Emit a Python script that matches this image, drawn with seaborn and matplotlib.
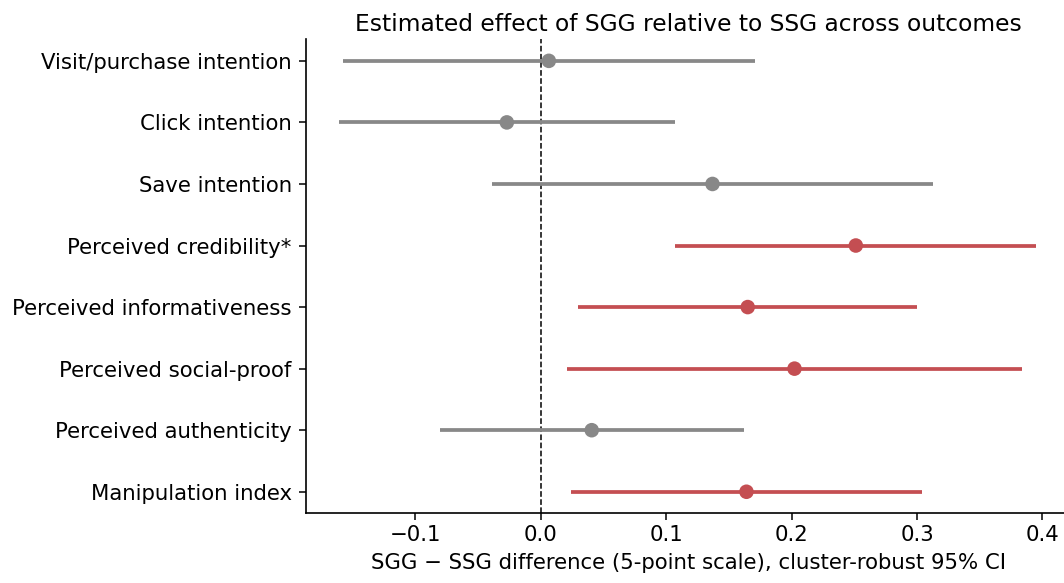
import matplotlib
matplotlib.use("Agg")
import matplotlib.pyplot as plt
import seaborn as sns
import pandas as pd

outcomes = [
    "Visit/purchase intention",
    "Click intention",
    "Save intention",
    "Perceived credibility*",
    "Perceived informativeness",
    "Perceived social-proof",
    "Perceived authenticity",
    "Manipulation index",
]
estimate = [0.0064, -0.0271, 0.1369, 0.2512, 0.1650, 0.2023, 0.0406, 0.1640]
ci_low = [-0.1574, -0.1608, -0.0391, 0.1071, 0.0300, 0.0212, -0.0803, 0.0242]
ci_high = [0.1709, 0.1071, 0.3131, 0.3950, 0.2998, 0.3836, 0.1621, 0.3038]
significant = [False, False, False, True, True, True, False, True]

title = "Estimated effect of SGG relative to SSG across outcomes"
xlabel = "SGG \u2212 SSG difference (5-point scale), cluster-robust 95% CI"

df = pd.DataFrame({"outcome": outcomes, "est": estimate, "lo": ci_low,
                   "hi": ci_high, "sig": significant})
df["pos"] = range(len(df))

sns.set_style("ticks")
plt.rcParams["font.family"] = ["DejaVu Sans"]
plt.rcParams["text.color"] = "black"
plt.rcParams["axes.labelcolor"] = "black"
plt.rcParams["xtick.color"] = "black"
plt.rcParams["ytick.color"] = "black"

RED = "#c44e52"
GRAY = "#888888"
FS = 15.3

fig = plt.figure(figsize=(10.64, 5.83), dpi=100)
ax = fig.add_axes([305.7 / 1064, 69.7 / 583, (1071 - 305.7) / 1064, 474 / 583])

for sig, color in [(False, GRAY), (True, RED)]:
    sub = df[df["sig"] == sig]
    ax.hlines(sub["pos"], sub["lo"], sub["hi"], color=color, lw=2.7, zorder=2)
    sns.scatterplot(data=sub, x="est", y="pos", color=color, s=110,
                    edgecolor="none", ax=ax, zorder=3, legend=False)

ax.axvline(0, color="black", ls="--", lw=1.1, zorder=1)

ax.set_yticks(df["pos"])
ax.set_yticklabels(df["outcome"], fontsize=FS)
ax.set_xlim(-0.1875, 0.4228)
ax.set_ylim(7.35, -0.35)
ax.set_xticks([-0.1, 0.0, 0.1, 0.2, 0.3, 0.4])
ax.set_xticklabels(["\u22120.1", "0.0", "0.1", "0.2", "0.3", "0.4"])
ax.tick_params(axis="x", labelsize=FS, length=5, width=1.1, color="black")
ax.tick_params(axis="y", length=5, width=1.1, color="black", pad=5)
ax.set_xlabel(xlabel, fontsize=FS, labelpad=6)
ax.set_ylabel("")
ax.set_title(title, fontsize=16.8, pad=6)
for s in ["top", "right"]:
    ax.spines[s].set_visible(False)
for s in ["left", "bottom"]:
    ax.spines[s].set_color("black")
    ax.spines[s].set_linewidth(1.2)

fig.savefig("out.png", dpi=100)
